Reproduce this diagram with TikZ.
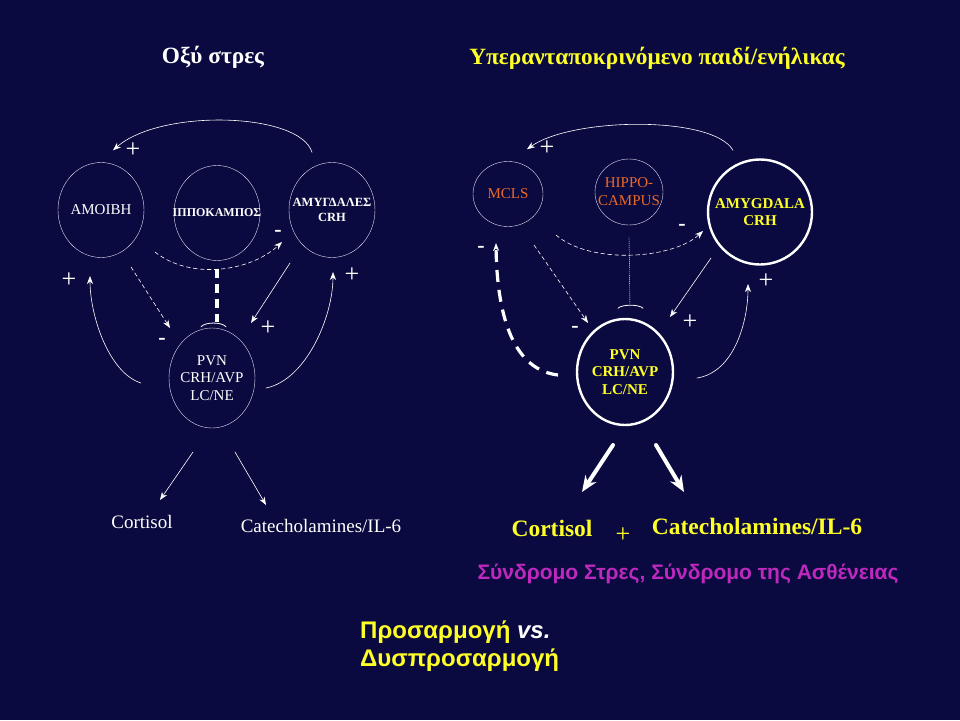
\documentclass[tikz,border=0pt]{standalone}
\usepackage{fontspec}
\setmainfont{Liberation Serif}
\newfontfamily\arialfont{Liberation Sans}
\usepackage{tikz}
\usetikzlibrary{calc}
\usetikzlibrary{arrows}
\usetikzlibrary{arrows.meta}
\usetikzlibrary{positioning}
\usepgflibrary{shapes.geometric}
\definecolor{slidebg}{RGB}{10,10,64}
\definecolor{ringline}{RGB}{225,225,245}
\definecolor{labelorange}{RGB}{235,105,40}
\definecolor{labelyellow}{RGB}{255,255,40}
\definecolor{syndpurple}{RGB}{190,40,190}

\tikzset{
  ring/.style={draw=ringline, thin, ellipse, inner sep=-30pt, align=center, text=white,
    minimum width=86pt, minimum height=95pt, font=\fontsize{15}{17.5}\selectfont},
  bigring/.style={ring, draw=white, line width=2.4pt, text=labelyellow,
    font=\fontsize{15}{17.5}\selectfont\bfseries},
  link/.style={->, white, semithick},
  dashlink/.style={link, dash pattern=on 4pt off 3pt},
  thickdash/.style={white, line width=4pt, line cap=butt, dash pattern=on 9pt off 6pt},
  plus/.style={white, inner sep=0pt, font=\fontsize{26}{26}\selectfont},
  minus/.style={white, inner sep=0pt, font=\fontsize{22}{22}\selectfont\bfseries},
  heading/.style={inner sep=0pt, font=\fontsize{23.3}{26}\selectfont\bfseries},
  outcome/.style={inner sep=0pt, text=white, font=\fontsize{19}{22}\selectfont},
  bigout/.style={inner sep=0pt, text=labelyellow, font=\fontsize{23.5}{26}\selectfont\bfseries},
  bigarrow/.style={-{Stealth[length=16pt,width=13pt]}, white, line width=4pt}
}

\begin{document}
\begin{tikzpicture}[x=1pt, y=-1pt, line cap=round, line join=round, >={Stealth[length=8pt,width=6pt]}]
  %--- Slide
    \fill[slidebg] (0,0) rectangle (960,720);
  %--- Titles
    \node[heading, text=white] (titleL) at (213,57) {Οξύ στρες};
    \node[heading, text=labelyellow] (titleR) at (657,58) {Υπερανταποκρινόμενο παιδί/ενήλικας};

  %--- Left: nuclei
    \node[ring] (amoibhL) at (101,210) {ΑΜΟΙΒΗ};
    \node[ring, font=\fontsize{12}{15}\selectfont\bfseries] (hippoL) at (217,213) {ΙΠΠΟΚΑΜΠΟΣ};
    \node[ring, font=\fontsize{12.5}{15}\selectfont\bfseries] (amygL) at (332,210) {ΑΜΥΓΔΑΛΕΣ\\CRH};
    \node[ring, minimum height=100pt] (pvnL) at (212,378) {PVN\\CRH/AVP\\LC/NE};
  %--- Left: loops
    \draw[link] ([shift={(-20,-10)}]amygL.north) .. controls +(-12,-40) and +(48,-42) .. ([shift={(12,-12)}]amoibhL.north);
    \node[plus] (pTopL) at (133,150) {+};
    \draw[dashlink] ([shift={(-62,39)}]hippoL.center) .. controls +(35,28) and +(-32,30) .. ([shift={(-50,32)}]amygL.center);
    \node[minus] (mArcL) at (278,233) {-};
    \draw[thickdash, shorten <=8pt, shorten >=6pt] (hippoL.south) -- (hippoL.south |- pvnL.north);
    \draw[white, thick] ([shift={(-11,-1)}]pvnL.north) .. controls +(4,-5) and +(-4,-5) .. ([shift={(14,-1)}]pvnL.north);
    \draw[dashlink] ([shift={(30,57)}]amoibhL.center) -- ([shift={(-42,-50)}]pvnL.center);
    \node[minus] (mPvnL) at (162,341) {-};
    \draw[link] ([shift={(-42,53)}]amygL.center) -- ([shift={(39,-55)}]pvnL.center);
    \node[plus] (pPvnL) at (268,328) {+};
    \draw[link] ([shift={(-71,5)}]pvnL.center) .. controls +(-32,-10) and +(0,40) .. ([shift={(-11,66)}]amoibhL.center);
    \node[plus] (pAmoibhL) at (69,280) {+};
    \draw[link] ([shift={(54,10)}]pvnL.center) .. controls +(40,-8) and +(0,45) .. ([shift={(1,62)}]amygL.center);
    \node[plus] (pAmygL) at (352,275) {+};
  %--- Left: outputs
    \node[outcome] (cortL) at (142,522) {Cortisol};
    \node[outcome] (catL) at (321,526) {Catecholamines/IL-6};
    \draw[link] ([shift={(-19,74)}]pvnL.center) -- ([shift={(18,-22)}]cortL.center);
    \draw[link] ([shift={(23,74)}]pvnL.center) -- ([shift={(-55,-21)}]catL.center);

  %--- Right: nuclei
    \node[ring, minimum width=70pt, minimum height=65pt, text=labelorange] (mclsR) at (508,194) {MCLS};
    \node[ring, minimum width=68pt, minimum height=66pt, text=labelorange, font=\fontsize{15}{18}\selectfont] (hippoR) at (629,192) {HIPPO-\\CAMPUS};
    \node[bigring, minimum width=104pt, minimum height=105pt] (amygR) at (760,212) {AMYGDALA\\CRH};
    \node[bigring, minimum width=96pt, minimum height=106pt] (pvnR) at (625,372) {PVN\\CRH/AVP\\LC/NE};
  %--- Right: loops
    \draw[link] ([shift={(-27,-8)}]amygR.north) .. controls +(-20,-35) and +(45,-32) .. ([shift={(19,-12)}]mclsR.north);
    \node[plus] (pTopR) at (547,148) {+};
    \draw[dashlink] ([shift={(-73,43)}]hippoR.center) .. controls +(35,30) and +(-30,28) .. ([shift={(-57,19)}]amygR.center);
    \node[minus] (mArcR) at (682,227) {-};
    \draw[white, thin, dash pattern=on 1pt off 1pt] ([yshift=-12pt]hippoR.south) -- ([shift={(1,81)}]hippoR.south);
    \draw[white, thick] ([shift={(-11,83)}]hippoR.south) .. controls +(4,-4) and +(-4,-4) .. ([shift={(14,83)}]hippoR.south);
    \draw[dashlink] ([shift={(26,51)}]mclsR.center) -- ([shift={(-37,-49)}]pvnR.center);
    \node[minus] (mPvnR) at (575,329) {-};
    \draw[link] ([shift={(-49,46)}]amygR.center) -- ([shift={(45,-55)}]pvnR.center);
    \node[plus] (pPvnR) at (690,322) {+};
    \draw[->, white, line width=3.2pt, line cap=butt, dash pattern=on 12pt off 8pt] ([shift={(-67,3)}]pvnR.center) .. controls +(-43,-5) and +(1,77) .. ([shift={(-12,49)}]mclsR.center);
    \node[minus] (mMclsR) at (481,249) {-};
    \draw[link] ([shift={(72,6)}]pvnR.center) .. controls +(38,-6) and +(0,36) .. ([shift={(-12,72)}]amygR.center);
    \node[plus] (pAmygR) at (766,281) {+};
  %--- Right: outputs
    \node[bigout] (cortR) at (552,528) {Cortisol};
    \node[plus, text=labelyellow] (pOut) at (623,535) {+};
    \node[bigout] (catR) at (757,526) {Catecholamines/IL-6};
    \draw[bigarrow] ([shift={(-12,73)}]pvnR.center) -- ([shift={(30,-36)}]cortR.center);
    \draw[bigarrow] ([shift={(31,73)}]pvnR.center) -- ([shift={(-73,-34)}]catR.center);
    \node[text=syndpurple, font=\arialfont\fontsize{21}{24}\selectfont\bfseries] (syndR) at (688,574) {Σύνδρομο Στρες, Σύνδρομο της Ασθένειας};

  %--- Bottom line
    \node[anchor=west, align=left, inner sep=0pt, text=labelyellow, font=\arialfont\fontsize{24}{28}\selectfont\bfseries] (adapt) at (360,646) {Προσαρμογή {\color{white}\itshape vs.}\\Δυσπροσαρμογή};
\end{tikzpicture}
\end{document}
